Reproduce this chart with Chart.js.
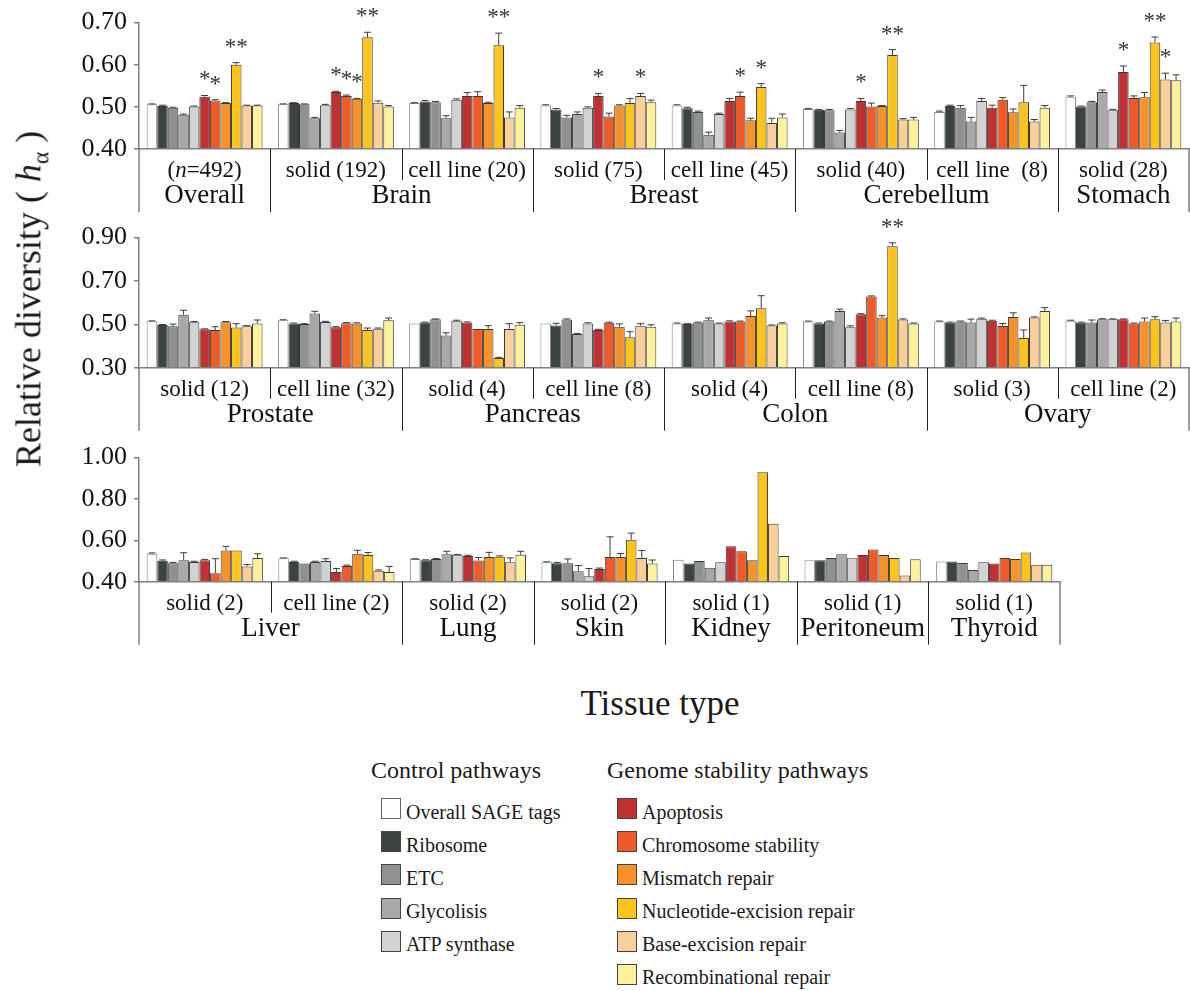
<!DOCTYPE html>
<html>
<head>
<meta charset="utf-8">
<script src="https://cdn.jsdelivr.net/npm/chart.js@4.4.1/dist/chart.umd.min.js"></script>
<style>
  html, body { margin:0; padding:0; background:#fff; }
  body { width:1190px; height:991px; overflow:hidden; position:relative; font-family:"Liberation Serif","Times New Roman",serif; color:#1a1a1a; }
  .row { position:absolute; left:0; }
  .t { position:absolute; white-space:nowrap; }
  .lh { font-size:24px; line-height:30px; }
  .li { font-size:20px; line-height:20px; }
  .box { position:absolute; width:18px; height:19px; border:1px solid #555; box-sizing:content-box; }
</style>
</head>
<body>
<div class="row" style="top:0px;width:1190px;height:215px"><canvas id="c1"></canvas></div>
<div class="row" style="top:215px;width:1190px;height:220px"><canvas id="c2"></canvas></div>
<div class="row" style="top:435px;width:1061px;height:215px"><canvas id="c3"></canvas></div>

<div class="t" style="left:31px;top:299px;font-size:36px;transform:translate(-50%,-50%) rotate(-90deg);">Relative diversity ( <i>h</i><sub style="font-size:0.65em">α</sub> )</div>
<div class="t" style="left:660px;top:684px;font-size:35px;line-height:40px;transform:translateX(-50%);">Tissue type</div>

<div id="legend"></div>

<script>
// ---------------- data ----------------
const pathways = ['Overall SAGE tags','Ribosome','ETC','Glycolisis','ATP synthase',
  'Apoptosis','Chromosome stability','Mismatch repair','Nucleotide-excision repair',
  'Base-excision repair','Recombinational repair'];
const controlCount = 5;
const colors = ['#ffffff','#3b4443','#8f9193','#a8aaaa','#d2d2d2',
  '#c03131','#ef5a29','#f6922a','#fcc41c','#fbcf9b','#fbf29b'];

// Row 1
const row1Groups = ['(n=492)','solid (192)','cell line (20)','solid (75)','cell line (45)','solid (40)','cell line  (8)','solid (28)'];
const row1Tissues = ['Overall','Brain','Breast','Cerebellum','Stomach'];
const row1Spans = [1,2,2,2,1];
const row1Ticks = [0.40,0.50,0.60,0.70];
const row1Values = [
  [0.506,0.502,0.498,0.481,0.501,0.524,0.515,0.509,0.600,0.503,0.503],
  [0.506,0.509,0.506,0.473,0.504,0.535,0.526,0.519,0.665,0.510,0.501],
  [0.509,0.513,0.511,0.473,0.517,0.526,0.526,0.509,0.646,0.475,0.498],
  [0.503,0.494,0.475,0.483,0.498,0.526,0.477,0.503,0.509,0.526,0.511],
  [0.503,0.497,0.488,0.434,0.483,0.514,0.526,0.468,0.547,0.462,0.475],
  [0.495,0.493,0.492,0.439,0.494,0.514,0.501,0.502,0.623,0.470,0.470],
  [0.488,0.502,0.498,0.465,0.514,0.498,0.517,0.487,0.511,0.465,0.498],
  [0.524,0.501,0.511,0.535,0.492,0.583,0.521,0.523,0.653,0.565,0.563]
];
const row1Errors = [
  [0.001,0.002,0.001,0.002,0.001,0.003,0.002,0.001,0.005,0.001,0.001],
  [0.001,0.001,0.001,0.002,0.002,0.002,0.002,0.001,0.012,0.004,0.002],
  [0.001,0.002,0.002,0.006,0.002,0.008,0.010,0.002,0.029,0.013,0.005],
  [0.002,0.002,0.005,0.005,0.002,0.006,0.008,0.002,0.011,0.006,0.005],
  [0.002,0.002,0.002,0.006,0.002,0.006,0.009,0.005,0.008,0.011,0.008],
  [0.001,0.001,0.002,0.005,0.002,0.006,0.008,0.001,0.013,0.002,0.005],
  [0.002,0.002,0.005,0.010,0.006,0.006,0.005,0.008,0.040,0.005,0.005],
  [0.002,0.001,0.002,0.005,0.002,0.014,0.005,0.011,0.013,0.015,0.013]
];
const row1Stars = [[0,5,'*'],[0,6,'*'],[0,8,'**'],[1,5,'*'],[1,6,'*'],[1,7,'*'],[1,8,'**'],
  [2,8,'**'],[3,5,'*'],[3,9,'*'],[4,6,'*'],[4,8,'*'],[5,5,'*'],[5,8,'**'],[7,5,'*'],[7,8,'**'],[7,9,'*']];

// Row 2
const row2Groups = ['solid (12)','cell line (32)','solid (4)','cell line (8)','solid (4)','cell line (8)','solid (3)','cell line (2)'];
const row2Tissues = ['Prostate','Pancreas','Colon','Ovary'];
const row2Spans = [2,2,2,2];
const row2Ticks = [0.30,0.50,0.70,0.90];
const row2Values = [
  [0.514,0.497,0.491,0.544,0.510,0.477,0.474,0.510,0.485,0.491,0.504],
  [0.519,0.504,0.501,0.550,0.511,0.486,0.505,0.504,0.474,0.480,0.519],
  [0.504,0.508,0.523,0.449,0.516,0.508,0.479,0.479,0.345,0.479,0.498],
  [0.504,0.495,0.522,0.455,0.504,0.474,0.507,0.489,0.441,0.494,0.489],
  [0.504,0.501,0.508,0.519,0.504,0.513,0.513,0.538,0.574,0.495,0.504],
  [0.513,0.504,0.513,0.561,0.486,0.546,0.628,0.531,0.860,0.522,0.504],
  [0.513,0.508,0.513,0.508,0.526,0.516,0.492,0.534,0.437,0.531,0.561],
  [0.517,0.508,0.508,0.523,0.523,0.523,0.504,0.513,0.523,0.508,0.513]
];
const row2Errors = [
  [0.002,0.002,0.010,0.021,0.003,0.002,0.015,0.003,0.018,0.003,0.016],
  [0.002,0.002,0.002,0.010,0.003,0.003,0.003,0.003,0.009,0.003,0.010],
  [0.000,0.002,0.002,0.012,0.003,0.003,0.000,0.015,0.003,0.024,0.010],
  [0.000,0.010,0.003,0.003,0.003,0.003,0.003,0.013,0.025,0.009,0.009],
  [0.002,0.002,0.002,0.010,0.002,0.003,0.002,0.024,0.058,0.002,0.003],
  [0.002,0.002,0.002,0.009,0.007,0.003,0.003,0.009,0.016,0.003,0.002],
  [0.002,0.002,0.002,0.016,0.003,0.003,0.012,0.019,0.037,0.003,0.016],
  [0.002,0.002,0.012,0.003,0.002,0.002,0.002,0.016,0.012,0.010,0.016]
];
const row2Stars = [[5,8,'**']];

// Row 3
const row3Groups = ['solid (2)','cell line (2)','solid (2)','solid (2)','solid (1)','solid (1)','solid (1)'];
const row3Tissues = ['Liver','Lung','Skin','Kidney','Peritoneum','Thyroid'];
const row3Spans = [2,1,1,1,1,1];
const row3Ticks = [0.40,0.60,0.80,1.00];
const row3Values = [
  [0.535,0.501,0.489,0.504,0.495,0.504,0.441,0.551,0.551,0.474,0.515],
  [0.513,0.495,0.488,0.495,0.500,0.447,0.476,0.535,0.529,0.453,0.447],
  [0.510,0.504,0.510,0.533,0.530,0.524,0.503,0.519,0.521,0.494,0.530],
  [0.494,0.489,0.489,0.451,0.426,0.462,0.519,0.519,0.603,0.515,0.488],
  [0.506,0.488,0.500,0.468,0.494,0.571,0.547,0.504,0.929,0.680,0.524],
  [0.504,0.504,0.515,0.533,0.513,0.529,0.556,0.529,0.515,0.430,0.509],
  [0.498,0.498,0.491,0.457,0.494,0.488,0.515,0.510,0.541,0.482,0.482]
];
const row3Errors = [
  [0.004,0.004,0.004,0.036,0.004,0.004,0.070,0.020,0.000,0.009,0.020],
  [0.002,0.004,0.000,0.004,0.011,0.017,0.004,0.017,0.012,0.004,0.027],
  [0.001,0.002,0.002,0.014,0.002,0.004,0.014,0.023,0.004,0.021,0.017],
  [0.002,0.004,0.021,0.027,0.038,0.004,0.098,0.017,0.032,0.036,0.017],
  [0,0,0,0,0,0,0,0,0,0,0],
  [0,0,0,0,0,0,0,0,0,0,0],
  [0,0,0,0,0,0,0,0,0,0,0]
];
const row3Stars = [];

// ---------------- drawing ----------------
const SERIF = '"Liberation Serif","Times New Roman",serif';
const AXIS = '#7f7f7f';

function drawLabel(ctx, text, x, y, size) {
  const m = text.match(/^\((n)(=.*)$/);
  ctx.textBaseline = 'middle';
  if (!m) {
    ctx.font = size + 'px ' + SERIF; ctx.textAlign = 'center';
    ctx.fillText(text, x, y); return;
  }
  const parts = [['(', ''], ['n', 'italic '], [m[2], '']];
  let total = 0;
  parts.forEach(p => { ctx.font = p[1] + size + 'px ' + SERIF; total += ctx.measureText(p[0]).width; });
  let cx = x - total / 2; ctx.textAlign = 'left';
  parts.forEach(p => { ctx.font = p[1] + size + 'px ' + SERIF; ctx.fillText(p[0], cx, y); cx += ctx.measureText(p[0]).width; });
}

function makePlugin(info) {
  return {
    id: 'nested_' + info.id,
    afterDatasetsDraw(chart) {
      const ctx = chart.ctx, ys = chart.scales.y;
      ctx.save();
      chart.data.datasets.forEach((ds, i) => {
        chart.getDatasetMeta(i).data.forEach((bar, j) => {
          const e = ds.errors[j];
          if (!(e > 0)) return;
          const yt = ys.getPixelForValue(ds.data[j] + e);
          ctx.strokeStyle = '#3c3c3c'; ctx.lineWidth = 1;
          ctx.beginPath();
          ctx.moveTo(bar.x, bar.y); ctx.lineTo(bar.x, yt);
          ctx.moveTo(bar.x - 3.5, yt); ctx.lineTo(bar.x + 3.5, yt);
          ctx.stroke();
        });
      });
      info.stars.forEach(([g, k, s]) => {
        const ds = chart.data.datasets[k];
        const bar = chart.getDatasetMeta(k).data[g];
        const top = ys.getPixelForValue(ds.data[g] + (ds.errors[g] || 0));
        ctx.font = '23px ' + SERIF; ctx.fillStyle = '#333';
        ctx.textAlign = 'center'; ctx.textBaseline = 'alphabetic';
        ctx.fillText(s, bar.x, top - 9);
      });
      ctx.restore();
    },
    afterDraw(chart) {
      const ctx = chart.ctx, area = chart.chartArea, xs = chart.scales.x;
      const n = info.groups.length, b = area.bottom;
      const cx = i => xs.getPixelForValue(i);
      const bound = i => i === 0 ? area.left : (i === n ? area.right : (cx(i - 1) + cx(i)) / 2);
      ctx.save();
      ctx.strokeStyle = AXIS; ctx.lineWidth = 1.5;
      ctx.beginPath();
      ctx.moveTo(area.left, b); ctx.lineTo(area.left, b + 63);
      ctx.moveTo(area.right, b); ctx.lineTo(area.right, b + 63);
      ctx.stroke();
      ctx.strokeStyle = '#222'; ctx.lineWidth = 1;
      let idx = 0;
      const tissueBounds = [];
      info.spans.forEach((sp) => {
        const start = idx, end = idx + sp;
        tissueBounds.push([bound(start), bound(end)]);
        for (let k = start + 1; k < end; k++) {
          const x = Math.round(bound(k)) + 0.5;
          ctx.beginPath(); ctx.moveTo(x, b); ctx.lineTo(x, b + 31); ctx.stroke();
        }
        if (end < n) {
          const x = Math.round(bound(end)) + 0.5;
          ctx.beginPath(); ctx.moveTo(x, b); ctx.lineTo(x, b + 63); ctx.stroke();
        }
        idx = end;
      });
      ctx.fillStyle = '#111';
      info.groups.forEach((g, i) => drawLabel(ctx, g, cx(i), b + 22, 23));
      info.tissues.forEach((t, i) => {
        const [l, r] = tissueBounds[i];
        drawLabel(ctx, t, (l + r) / 2, b + 47, 27);
      });
      ctx.restore();
    }
  };
}

function buildRow(id, groups, tissues, spans, values, errors, stars, ticks, padTop, xHeight) {
  const datasets = pathways.map((name, k) => ({
    label: name,
    data: values.map(g => g[k]),
    errors: errors.map(g => g[k]),
    backgroundColor: colors[k],
    borderColor: k === 0 ? '#808080' : '#3a3a3a',
    borderWidth: 1,
    borderSkipped: 'start',
    base: ticks[0],
    categoryPercentage: 0.883,
    barPercentage: 1.0
  }));
  const info = { id, groups, tissues, spans, stars };
  return new Chart(document.getElementById(id), {
    type: 'bar',
    data: { labels: groups, datasets },
    options: {
      responsive: true, maintainAspectRatio: false, animation: false, devicePixelRatio: 1,
      layout: { padding: { top: padTop, right: 1, left: 0, bottom: 0 } },
      plugins: { legend: { display: false }, tooltip: { enabled: false } },
      scales: {
        x: {
          ticks: { display: false },
          grid: { display: false },
          border: { display: true, color: AXIS, width: 1.5 },
          afterFit: s => { s.height = xHeight; }
        },
        y: {
          min: ticks[0], max: ticks[ticks.length - 1],
          afterBuildTicks: s => { s.ticks = ticks.map(v => ({ value: v })); },
          ticks: { font: { family: SERIF, size: 26 }, color: '#111', padding: 7,
                   callback: v => Number(v).toFixed(2) },
          grid: { drawOnChartArea: false, drawTicks: true, tickLength: 5, color: AXIS, lineWidth: 1.5 },
          border: { display: true, color: AXIS, width: 1.5 },
          afterFit: s => { s.width = 139; }
        }
      }
    },
    plugins: [makePlugin(info)]
  });
}

buildRow('c1', row1Groups, row1Tissues, row1Spans, row1Values, row1Errors, row1Stars, row1Ticks, 16, 66);
buildRow('c2', row2Groups, row2Tissues, row2Spans, row2Values, row2Errors, row2Stars, row2Ticks, 18.3, 67.3);
buildRow('c3', row3Groups, row3Tissues, row3Spans, row3Values, row3Errors, row3Stars, row3Ticks, 14.3, 68.3);

// ---------------- legend (HTML) ----------------
(function () {
  const lg = document.getElementById('legend');
  let html = '';
  html += '<div class="t lh" style="left:371px;top:755px">Control pathways</div>';
  html += '<div class="t lh" style="left:607px;top:755px">Genome stability pathways</div>';
  const rowY = [808.3, 841.3, 874.3, 907.5, 940.5, 973.5];
  pathways.forEach((name, k) => {
    const ctrl = k < controlCount;
    const r = ctrl ? k : k - controlCount;
    const c = rowY[r];
    const bx = ctrl ? 381 : 617;
    const tx = ctrl ? 406 : 642;
    const bc = k === 0 ? '#666' : '#444';
    html += '<div class="box" style="left:' + bx + 'px;top:' + (c - 10) + 'px;background:' + colors[k] + ';border-color:' + bc + '"></div>';
    html += '<div class="t li" style="left:' + tx + 'px;top:' + (c - 6.3) + 'px">' + name + '</div>';
  });
  lg.innerHTML = html;
})();
</script>
</body>
</html>
